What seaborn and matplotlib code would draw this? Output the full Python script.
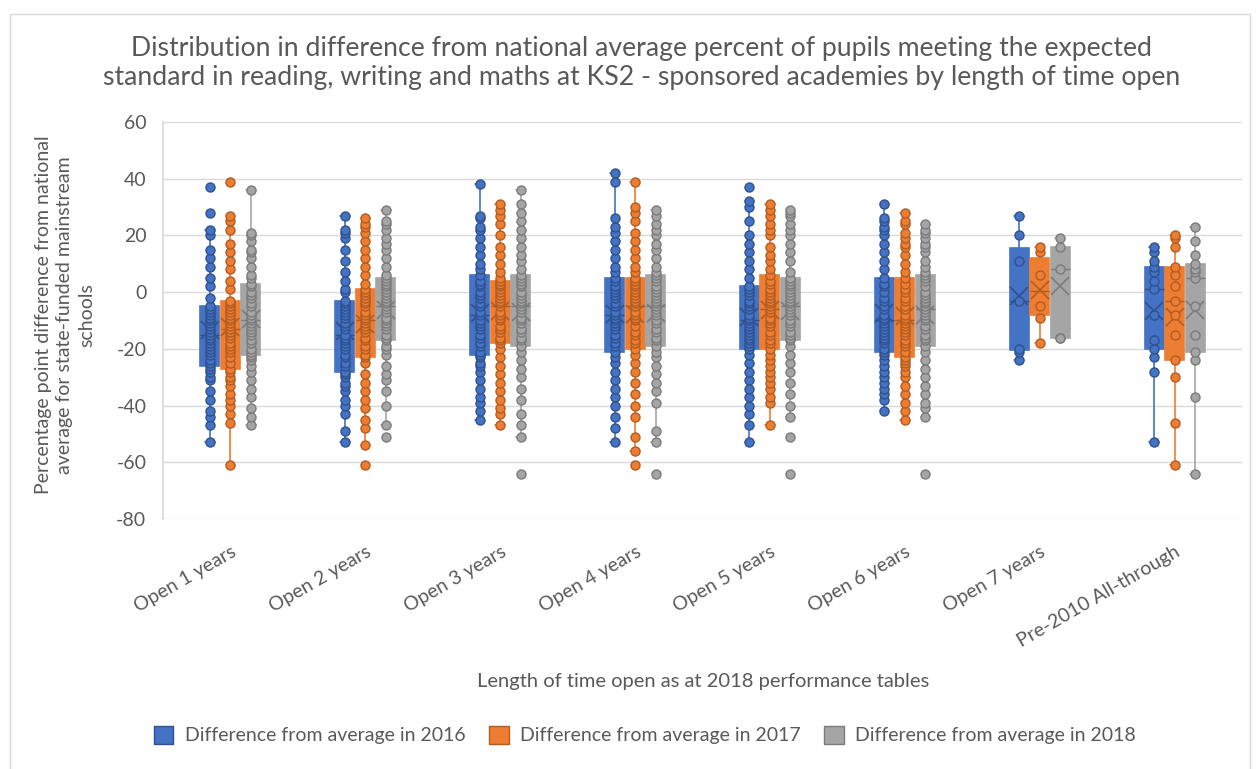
import numpy as np
import pandas as pd
import matplotlib
matplotlib.use('Agg')
import matplotlib.pyplot as plt
import seaborn as sns
from matplotlib.patches import Patch, Rectangle

# Categories on the x axis
categories = ['Open 1 years', 'Open 2 years', 'Open 3 years', 'Open 4 years',
              'Open 5 years', 'Open 6 years', 'Open 7 years', 'Pre-2010 All-through']

# Difference from national average, one list of school values per category
diff_2016 = [
    [-53, -47, -44, -42, -38, -35, -31, -30, -28, -27, -26, -25, -24, -22, -21, -20, -19, -18, -17, -16, -15,
     -14, -13, -12, -11, -10, -9, -8, -7, -6, -5, -2, 2, 5, 9, 12, 15, 20, 22, 28, 37],
    [-53, -49, -43, -40, -38, -35, -33, -32, -30, -29, -28, -26, -25, -23, -22, -20, -19, -18, -17, -16, -15,
     -13, -12, -11, -9, -8, -7, -6, -5, -4, -3, 0, 1, 4, 7, 11, 15, 19, 21, 22, 27],
    [-45, -42, -39, -37, -34, -31, -28, -26, -25, -23, -22, -21, -19, -18, -16, -15, -13, -12, -11, -10, -8,
     -7, -5, -4, -2, -1, 0, 2, 3, 4, 6, 8, 10, 13, 16, 19, 22, 23, 26, 27, 38],
    [-53, -48, -44, -40, -37, -34, -31, -28, -25, -23, -21, -19, -18, -16, -15, -13, -12, -11, -10, -9, -8,
     -7, -5, -4, -2, -1, 0, 1, 2, 4, 5, 7, 9, 12, 15, 18, 21, 23, 26, 39, 42],
    [-53, -47, -43, -40, -37, -34, -31, -28, -25, -22, -20, -19, -18, -17, -16, -15, -14, -13, -12, -11, -10,
     -9, -8, -6, -5, -4, -3, -1, 0, 1, 2, 5, 8, 11, 14, 17, 20, 25, 30, 32, 37],
    [-42, -38, -36, -34, -32, -30, -28, -26, -24, -22, -21, -20, -18, -17, -16, -15, -14, -13, -12, -11, -10,
     -9, -8, -6, -5, -3, -2, 0, 2, 3, 5, 8, 11, 14, 17, 20, 22, 23, 25, 26, 31],
    [-24, -21, -20, -3, 11, 20, 27],
    [-53, -28, -23, -20, -17, -8, 1, 4, 7, 9, 11, 14, 16],
]
diff_2017 = [
    [-61, -46, -43, -40, -38, -36, -33, -31, -30, -28, -27, -25, -23, -21, -20, -19, -18, -16, -15, -14, -13,
     -12, -11, -10, -9, -8, -7, -6, -5, -4, -3, 1, 4, 8, 11, 14, 17, 22, 25, 27, 39],
    [-61, -54, -48, -45, -41, -38, -35, -32, -29, -25, -23, -22, -20, -19, -17, -16, -14, -13, -12, -11, -10,
     -9, -8, -7, -5, -4, -3, -2, -1, 0, 1, 3, 6, 9, 12, 15, 18, 21, 23, 24, 26],
    [-47, -43, -41, -38, -35, -32, -29, -26, -23, -20, -18, -17, -16, -14, -13, -12, -10, -9, -8, -7, -5,
     -4, -3, -2, -1, 0, 1, 2, 3, 3, 4, 5, 7, 10, 13, 16, 20, 24, 27, 29, 31],
    [-61, -56, -51, -44, -40, -36, -32, -28, -25, -22, -20, -18, -17, -15, -14, -12, -10, -9, -8, -7, -5,
     -4, -3, -2, -1, 0, 1, 2, 3, 4, 5, 7, 9, 12, 15, 18, 21, 25, 28, 30, 39],
    [-47, -39, -37, -34, -32, -30, -28, -26, -24, -22, -20, -18, -17, -15, -14, -12, -11, -10, -9, -7, -6,
     -5, -4, -3, -2, -1, 0, 1, 3, 4, 6, 8, 11, 13, 16, 20, 22, 24, 27, 29, 31],
    [-45, -42, -39, -36, -33, -30, -28, -26, -25, -24, -23, -21, -19, -18, -17, -15, -14, -13, -12, -11, -10,
     -9, -8, -6, -5, -3, -2, 0, 1, 3, 5, 7, 10, 13, 16, 17, 19, 21, 24, 25, 28],
    [-18, -9, -5, 6, 14, 16],
    [-61, -46, -30, -24, -15, -8, -3, 2, 6, 9, 16, 19, 20],
]
diff_2018 = [
    [-47, -44, -41, -37, -34, -31, -28, -26, -24, -23, -22, -21, -20, -18, -17, -15, -14, -13, -12, -11, -10,
     -9, -8, -7, -5, -4, -2, -1, 0, 2, 3, 5, 6, 9, 12, 14, 15, 18, 20, 21, 36],
    [-51, -47, -40, -35, -31, -29, -26, -22, -20, -19, -17, -16, -15, -13, -12, -11, -10, -9, -7, -6, -5,
     -4, -3, -2, -1, 0, 1, 2, 3, 4, 5, 6, 9, 12, 15, 17, 19, 22, 24, 25, 29],
    [-64, -51, -47, -43, -38, -34, -30, -27, -24, -21, -19, -17, -16, -14, -13, -11, -10, -9, -7, -6, -5,
     -4, -3, -2, -1, 0, 2, 3, 4, 5, 6, 8, 11, 13, 16, 19, 22, 25, 28, 31, 36],
    [-64, -53, -49, -39, -35, -32, -29, -26, -23, -21, -19, -17, -16, -14, -13, -11, -10, -8, -7, -6, -5,
     -4, -3, -2, -1, 0, 1, 2, 4, 5, 6, 7, 9, 12, 15, 17, 20, 22, 24, 27, 29],
    [-64, -51, -44, -40, -36, -32, -28, -25, -22, -19, -17, -16, -15, -14, -12, -11, -10, -8, -7, -6, -5,
     -4, -3, -2, -1, 0, 1, 2, 3, 4, 5, 7, 11, 14, 17, 20, 22, 24, 27, 28, 29],
    [-64, -44, -41, -39, -36, -33, -30, -27, -24, -21, -19, -17, -16, -15, -13, -12, -10, -9, -8, -7, -6,
     -5, -4, -3, -2, -1, 0, 2, 4, 5, 6, 7, 9, 11, 14, 16, 17, 19, 21, 22, 24],
    [-16, -16, 8, 16, 19],
    [-64, -37, -24, -21, -15, -5, 5, 7, 8, 10, 13, 18, 23],
]

series_names = ['Difference from average in 2016', 'Difference from average in 2017',
                'Difference from average in 2018']
fill_colors = ['#4472C4', '#ED7D31', '#A5A5A5']
dark_colors = ['#2F528F', '#B35C22', '#7B7B7B']

# long table, each series shifted sideways inside its category
offsets = [-0.152, 0.0, 0.152]
rows = []
for s, series in enumerate([diff_2016, diff_2017, diff_2018]):
    for i, vals in enumerate(series):
        for v in vals:
            rows.append({'series': series_names[s], 'xpos': i + offsets[s], 'value': v})
df = pd.DataFrame(rows)

sns.set_theme(style='white')
plt.rcParams['font.family'] = ['Lato', 'DejaVu Sans']
plt.rcParams['axes.unicode_minus'] = False
text_col = '#595959'

fig = plt.figure(figsize=(12.58, 7.69), dpi=100)
ax = fig.add_axes([163 / 1258, 1 - 519 / 769, 1079 / 1258, 397 / 769])

for s, name in enumerate(series_names):
    sub = df[df['series'] == name]
    sns.boxplot(data=sub, x='xpos', y='value', native_scale=True, width=0.14,
                color=fill_colors[s], linecolor=fill_colors[s], linewidth=1.2,
                showfliers=False, showmeans=True, saturation=1,
                medianprops=dict(color=dark_colors[s], linewidth=1),
                meanprops=dict(marker='x', markeredgecolor=dark_colors[s],
                               markersize=13, markeredgewidth=1.2),
                ax=ax)
    sns.stripplot(data=sub, x='xpos', y='value', native_scale=True, jitter=False,
                  color=fill_colors[s], edgecolor=dark_colors[s], linewidth=1,
                  size=6.5, zorder=4, ax=ax)

ax.set_xlim(-0.5, 7.5)
ax.set_ylim(-80, 60)
ax.set_yticks(range(-80, 61, 20))
ax.set_xticks(range(len(categories)))
ax.set_xticklabels(categories, rotation=30, ha='right', rotation_mode='anchor')
ax.tick_params(axis='both', length=0, labelsize=14, labelcolor=text_col)
ax.tick_params(axis='x', pad=17)
ax.tick_params(axis='y', pad=12)
ax.set_xlabel('')
ax.set_ylabel('')
ax.yaxis.grid(True, color='#D9D9D9', linewidth=1)
ax.set_axisbelow(True)
for sp in ['top', 'right', 'bottom']:
    ax.spines[sp].set_visible(False)
ax.spines['left'].set_color('#D9D9D9')

fig.text(0.51, 1 - 63 / 769,
         'Distribution in difference from national average percent of pupils meeting the expected\n'
         'standard in reading, writing and maths at KS2 - sponsored academies by length of time open',
         ha='center', va='center', fontsize=19.2, color=text_col, linespacing=1.2)
fig.text(65 / 1258, 1 - 315 / 769,
         'Percentage point difference from national\naverage for state-funded mainstream\nschools',
         ha='center', va='center', rotation=90, fontsize=14, color=text_col, linespacing=1.35)
fig.text(703 / 1258, 1 - 682 / 769, 'Length of time open as at 2018 performance tables',
         ha='center', va='center', fontsize=14.5, color=text_col)

handles = [Patch(facecolor=fill_colors[s], edgecolor=dark_colors[s]) for s in range(3)]
fig.legend(handles, series_names, loc='center', bbox_to_anchor=(645 / 1258, 1 - 735 / 769),
           ncol=3, frameon=False, fontsize=14, handlelength=1.0, handleheight=1.1,
           columnspacing=1.2, handletextpad=0.6, labelcolor=text_col)

fig.add_artist(Rectangle((10 / 1258, -0.02), 1240 / 1258, 1 - 14 / 769 + 0.02,
                         transform=fig.transFigure, fill=False, edgecolor='#D9D9D9', linewidth=1))

fig.savefig('out.png', dpi=100)
